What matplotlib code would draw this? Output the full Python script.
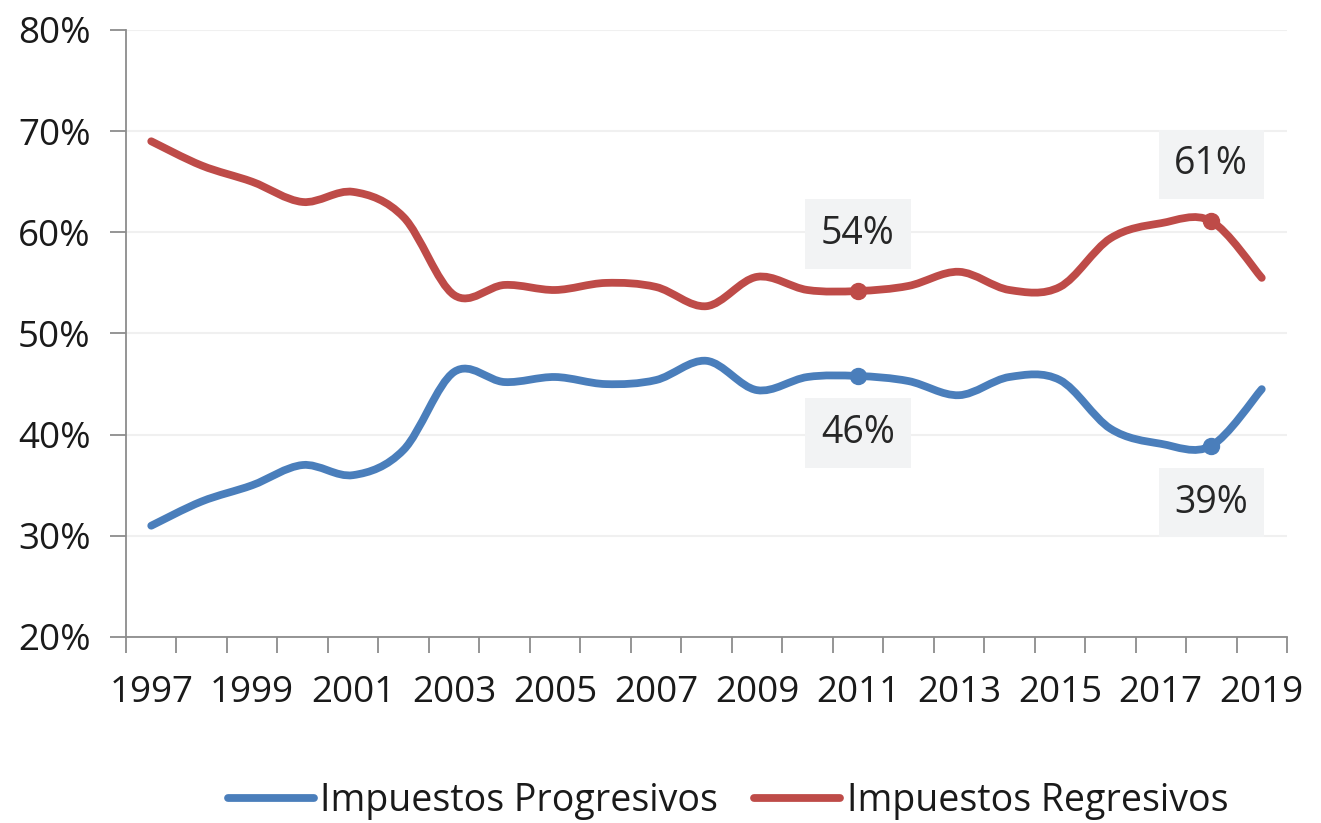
import matplotlib
matplotlib.use("Agg")
import matplotlib.pyplot as plt
from matplotlib.path import Path
from matplotlib.patches import PathPatch
from matplotlib.lines import Line2D
import numpy as np

years = list(range(1997, 2020))
regresivos = [69.0, 66.6, 65.0, 63.0, 64.0, 61.5, 53.8, 54.8, 54.3, 55.0, 54.6, 52.7,
              55.6, 54.3, 54.2, 54.7, 56.1, 54.3, 54.6, 59.4, 60.9, 61.1, 55.5]
progresivos = [100 - v for v in regresivos]
label_years = [2011, 2018]
tick_labels = [str(y) for y in years[::2]]

blue = "#4a7ebb"
red = "#be4b48"

main_font = "Open Sans"

fig = plt.figure(figsize=(13.21, 8.23), dpi=100)
ax = fig.add_axes([126/1321, 1 - 637/823, (1287-126)/1321, (637-30)/823])

x = np.arange(len(years))


def smooth_path(xs, ys):
    verts = [(xs[0], ys[0])]
    codes = [Path.MOVETO]
    n = len(xs)
    for i in range(n - 1):
        p0 = np.array([xs[max(i-1, 0)], ys[max(i-1, 0)]])
        p1 = np.array([xs[i], ys[i]])
        p2 = np.array([xs[i+1], ys[i+1]])
        p3 = np.array([xs[min(i+2, n-1)], ys[min(i+2, n-1)]])
        c1 = p1 + (p2 - p0) / 6.0
        c2 = p2 - (p3 - p1) / 6.0
        verts += [tuple(c1), tuple(c2), tuple(p2)]
        codes += [Path.CURVE4] * 3
    return Path(verts, codes)


for ys, col in [(progresivos, blue), (regresivos, red)]:
    ax.add_patch(PathPatch(smooth_path(x, ys), facecolor="none", edgecolor=col,
                           lw=5.6, capstyle="round", joinstyle="round", zorder=3))

for yr in label_years:
    i = years.index(yr)
    ax.plot(x[i], regresivos[i], "o", color=red, ms=11.5, zorder=4)
    ax.plot(x[i], progresivos[i], "o", color=blue, ms=11.5, zorder=4)
    box = dict(boxstyle="square,pad=0.42", fc="#f2f3f4", ec="none")
    ax.annotate(f"{round(regresivos[i]):d}%", (x[i], regresivos[i]), xytext=(0, 41),
                textcoords="offset points", ha="center", va="center", fontsize=27,
                family=main_font, color="#262626", bbox=box, zorder=5)
    ax.annotate(f"{round(progresivos[i]):d}%", (x[i], progresivos[i]), xytext=(0, -41),
                textcoords="offset points", ha="center", va="center", fontsize=27,
                family=main_font, color="#262626", bbox=box, zorder=5)

ax.set_xlim(-0.5, len(years) - 0.5)
ax.set_ylim(20, 80)
ax.set_yticks(range(20, 81, 10))
ax.set_yticklabels([f"{v}%" for v in range(20, 81, 10)])
ax.set_xticks(np.arange(-0.5, len(years), 1.0))
ax.set_xticklabels([])
ax.set_xticks(x[::2], minor=True)
ax.set_xticklabels(tick_labels, minor=True)
ax.tick_params(axis="x", which="major", length=11.5, width=1.3, color="#8c8c8c")
ax.tick_params(axis="x", which="minor", length=0, pad=27, labelsize=26.5, labelcolor="#1a1a1a")
ax.tick_params(axis="y", length=11.5, width=1.3, color="#8c8c8c", pad=14, labelsize=26.5,
               labelcolor="#1a1a1a")
for lab in ax.get_xticklabels(minor=True) + ax.get_yticklabels():
    lab.set_family(main_font)

ax.grid(axis="y", color="#f0f0f0", lw=1.5, zorder=0)
ax.set_axisbelow(True)
for s in ["top", "right"]:
    ax.spines[s].set_visible(False)
for s in ["left", "bottom"]:
    ax.spines[s].set_color("#8c8c8c")
    ax.spines[s].set_linewidth(1.3)

handles = [Line2D([], [], color=blue, lw=5.6, solid_capstyle="round"),
           Line2D([], [], color=red, lw=5.6, solid_capstyle="round")]
fig.legend(handles, ["Impuestos Progresivos", "Impuestos Regresivos"], loc="center",
           bbox_to_anchor=(728/1321, 1 - 801/823), ncol=2, frameon=False,
           prop={"family": main_font, "size": 27}, handlelength=2.3, handletextpad=0.18,
           columnspacing=0.95, labelcolor="#1a1a1a")

fig.savefig("out.png", dpi=100, facecolor="white")
